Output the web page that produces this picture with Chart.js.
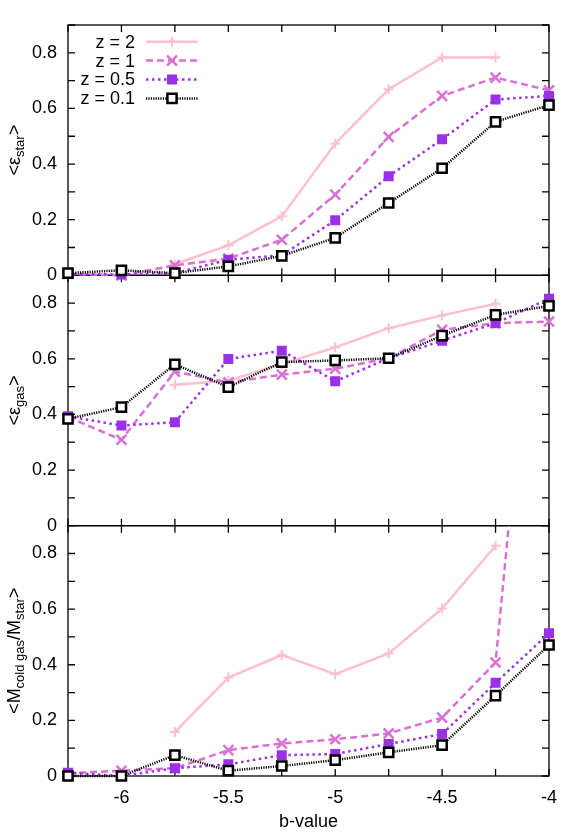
<!DOCTYPE html>
<html>
<head>
<meta charset="utf-8">
<script src="https://cdn.jsdelivr.net/npm/chart.js@4"></script>
<style>
  html, body { margin: 0; padding: 0; background: #fff; }
  #wrap { width: 568px; height: 835px; }
</style>
</head>
<body>
<div id="wrap"><canvas id="bChart" width="568" height="835"></canvas></div>
<script>
// x values (b-value) and series labels
const bValues = [-6.25, -6, -5.75, -5.5, -5.25, -5, -4.75, -4.5, -4.25, -4];
const redshiftLabels = ["z = 2", "z = 1", "z = 0.5", "z = 0.1"];

// top panel: <eps_star>
const starZ2 = [null, null, 0.04, 0.108, 0.212, 0.474, 0.669, 0.783, 0.783, null];
const starZ1 = [0.005, 0.0, 0.036, 0.06, 0.128, 0.29, 0.498, 0.645, 0.711, 0.665];
const starZ05 = [0.005, 0.003, 0.008, 0.056, 0.072, 0.198, 0.356, 0.489, 0.632, 0.645];
const starZ01 = [0.008, 0.018, 0.008, 0.032, 0.07, 0.135, 0.26, 0.385, 0.552, 0.612];

// middle panel: <eps_gas>
const gasZ2 = [null, null, 0.507, 0.521, 0.581, 0.641, 0.71, 0.756, 0.798, null];
const gasZ1 = [0.39, 0.309, 0.554, 0.515, 0.543, 0.564, 0.602, 0.704, 0.728, 0.734];
const gasZ05 = [0.393, 0.36, 0.372, 0.599, 0.629, 0.519, 0.602, 0.665, 0.728, 0.816];
const gasZ01 = [0.384, 0.426, 0.58, 0.498, 0.588, 0.594, 0.602, 0.683, 0.758, 0.79];

// bottom panel: <M_cold gas / M_star>
const coldZ2 = [null, null, 0.158, 0.354, 0.435, 0.366, 0.441, 0.602, 0.828, null];
const coldZ1 = [0.01, 0.019, 0.028, 0.093, 0.117, 0.132, 0.153, 0.21, 0.408, 2.4];
const coldZ05 = [0.012, 0.0, 0.028, 0.042, 0.075, 0.079, 0.115, 0.151, 0.335, 0.513];
const coldZ01 = [0.0, 0.0, 0.075, 0.019, 0.036, 0.057, 0.085, 0.111, 0.289, 0.471];

const FONT = "'Liberation Sans', Arial, Helvetica, sans-serif";

// line / point look for each redshift
const seriesStyle = [
    { color: "#ffc0cb", dash: [], point: "cross", radius: 5, pointWidth: 2, lineWidth: 2.5, fill: "#ffc0cb" },
    { color: "#da70d6", dash: [7, 4], point: "crossRot", radius: 7, pointWidth: 2.5, lineWidth: 2.5, fill: "#da70d6" },
    { color: "#9b30e8", dash: [2.5, 3.5], point: "rect", radius: 6, pointWidth: 1.5, lineWidth: 2.5, fill: "#9b30e8" },
    { color: "#000000", dash: [1.2, 1.2], point: "rect", radius: 6.5, pointWidth: 2.5, lineWidth: 2.5, fill: "#ffffff" }
];

const panels = [
    { axis: "yStar", series: [starZ2, starZ1, starZ05, starZ01], title: [["<ε", false], ["star", true], [">", false]] },
    { axis: "yGas", series: [gasZ2, gasZ1, gasZ05, gasZ01], title: [["<ε", false], ["gas", true], [">", false]] },
    { axis: "yCold", series: [coldZ2, coldZ1, coldZ05, coldZ01], title: [["<M", false], ["cold gas", true], ["/M", false], ["star", true], [">", false]] }
];

const datasets = [];
panels.forEach(function (panel) {
    panel.series.forEach(function (values, k) {
        const s = seriesStyle[k];
        datasets.push({
            label: redshiftLabels[k],
            data: bValues.map((b, i) => ({ x: b, y: values[i] })),
            yAxisID: panel.axis,
            borderColor: s.color,
            backgroundColor: s.fill,
            borderWidth: s.lineWidth,
            borderDash: s.dash,
            pointStyle: s.point,
            pointRadius: s.radius,
            pointBorderWidth: s.pointWidth,
            pointBorderColor: s.color,
            pointBackgroundColor: s.fill,
            tension: 0,
            clip: false,
            order: 4 - k
        });
    });
});

// clip each dataset to its own panel
const panelClip = {
    id: "panelClip",
    beforeDatasetDraw(chart, args) {
        const ys = chart.scales[args.meta.yAxisID];
        const a = chart.chartArea;
        chart.ctx.save();
        chart.ctx.beginPath();
        chart.ctx.rect(a.left - 9, ys.top, a.right - a.left + 18, ys.bottom - ys.top + 7);
        chart.ctx.clip();
    },
    afterDatasetDraw(chart) {
        chart.ctx.restore();
    }
};

// frame and inward ticks on every side of every panel
const panelFrame = {
    id: "panelFrame",
    beforeDatasetsDraw(chart) {
        const { ctx, chartArea, scales } = chart;
        const xs = scales.x;
        ctx.save();
        ctx.strokeStyle = "#000";
        ctx.lineWidth = 1.3;
        ctx.setLineDash([]);
        panels.forEach(function (panel) {
            const ys = scales[panel.axis];
            ctx.strokeRect(chartArea.left, ys.top, chartArea.right - chartArea.left, ys.bottom - ys.top);
            ctx.beginPath();
            xs.ticks.forEach(function (t) {
                const px = xs.getPixelForValue(t.value);
                ctx.moveTo(px, ys.bottom); ctx.lineTo(px, ys.bottom - 7);
                ctx.moveTo(px, ys.top); ctx.lineTo(px, ys.top + 7);
            });
            ys.ticks.forEach(function (t) {
                const py = ys.getPixelForValue(t.value);
                ctx.moveTo(chartArea.left, py); ctx.lineTo(chartArea.left + 7, py);
                ctx.moveTo(chartArea.right, py); ctx.lineTo(chartArea.right - 7, py);
            });
            ctx.stroke();
        });
        ctx.restore();
    },
    afterDraw(chart) {
        const { ctx, scales } = chart;
        ctx.save();
        ctx.fillStyle = "#000";
        // rotated y titles with subscripts
        panels.forEach(function (panel) {
            const ys = scales[panel.axis];
            ctx.save();
            ctx.translate(0, (ys.top + ys.bottom) / 2);
            ctx.rotate(-Math.PI / 2);
            let total = 0;
            panel.title.forEach(function (p) {
                ctx.font = (p[1] ? "13px " : "18px ") + FONT;
                total += ctx.measureText(p[0]).width;
            });
            let x = -total / 2;
            ctx.textAlign = "left";
            ctx.textBaseline = "alphabetic";
            panel.title.forEach(function (p) {
                ctx.font = (p[1] ? "13px " : "18px ") + FONT;
                ctx.fillText(p[0], x, p[1] ? 23.5 : 20);
                x += ctx.measureText(p[0]).width;
            });
            ctx.restore();
        });
        // key: text on the left, sample on the right
        redshiftLabels.forEach(function (label, k) {
            const s = seriesStyle[k];
            const y = 41.7 + k * 18.9;
            ctx.font = "18px " + FONT;
            ctx.textAlign = "right";
            ctx.textBaseline = "middle";
            ctx.fillStyle = "#000";
            ctx.fillText(label, 135, y + 1);
            ctx.strokeStyle = s.color;
            ctx.lineWidth = s.lineWidth;
            ctx.setLineDash(s.dash);
            ctx.beginPath();
            ctx.moveTo(146, y);
            ctx.lineTo(198, y);
            ctx.stroke();
            ctx.setLineDash([]);
            ctx.lineWidth = s.pointWidth;
            ctx.fillStyle = s.fill;
            Chart.helpers.drawPoint(ctx, { pointStyle: s.point, radius: s.radius, borderWidth: s.pointWidth, rotation: 0 }, 172, y);
        });
        ctx.restore();
    }
};

function yScale() {
    return {
        type: "linear",
        position: "left",
        stack: "panels",
        stackWeight: 1,
        min: 0,
        max: 0.9,
        grid: { display: false, drawTicks: false },
        border: { display: false },
        afterFit: function (s) { s.width = 68; },
        ticks: {
            stepSize: 0.1,
            autoSkip: false,
            padding: 11,
            color: "#000",
            font: { family: FONT, size: 18 },
            callback: function (v) {
                const tenth = Math.round(v * 10);
                return (tenth % 2 === 0 && tenth < 9) ? String(tenth / 10) : "";
            }
        }
    };
}

new Chart(document.getElementById("bChart").getContext("2d"), {
    type: "line",
    data: { datasets: datasets },
    plugins: [panelClip, panelFrame],
    options: {
        responsive: false,
        animation: false,
        layout: { padding: { left: 0, right: 17, top: 25, bottom: 0 } },
        plugins: {
            legend: { display: false },
            tooltip: { enabled: false }
        },
        scales: {
            x: {
                type: "linear",
                min: -6.25,
                max: -4,
                grid: { display: false, drawTicks: false },
                border: { display: false },
                afterFit: function (s) { s.height = 59; },
                ticks: {
                    stepSize: 0.25,
                    autoSkip: false,
                    maxRotation: 0,
                    padding: 11,
                    color: "#000",
                    font: { family: FONT, size: 18 },
                    callback: function (v) {
                        const q = Math.round(v * 4);
                        return q % 2 === 0 ? String(q / 4) : "";
                    }
                },
                title: {
                    display: true,
                    text: "b-value",
                    color: "#000",
                    font: { family: FONT, size: 18 },
                    padding: { top: 0, bottom: 2 }
                }
            },
            // stacked left axes are laid out bottom-up
            yCold: yScale(),
            yGas: yScale(),
            yStar: yScale()
        }
    }
});
</script>
</body>
</html>
